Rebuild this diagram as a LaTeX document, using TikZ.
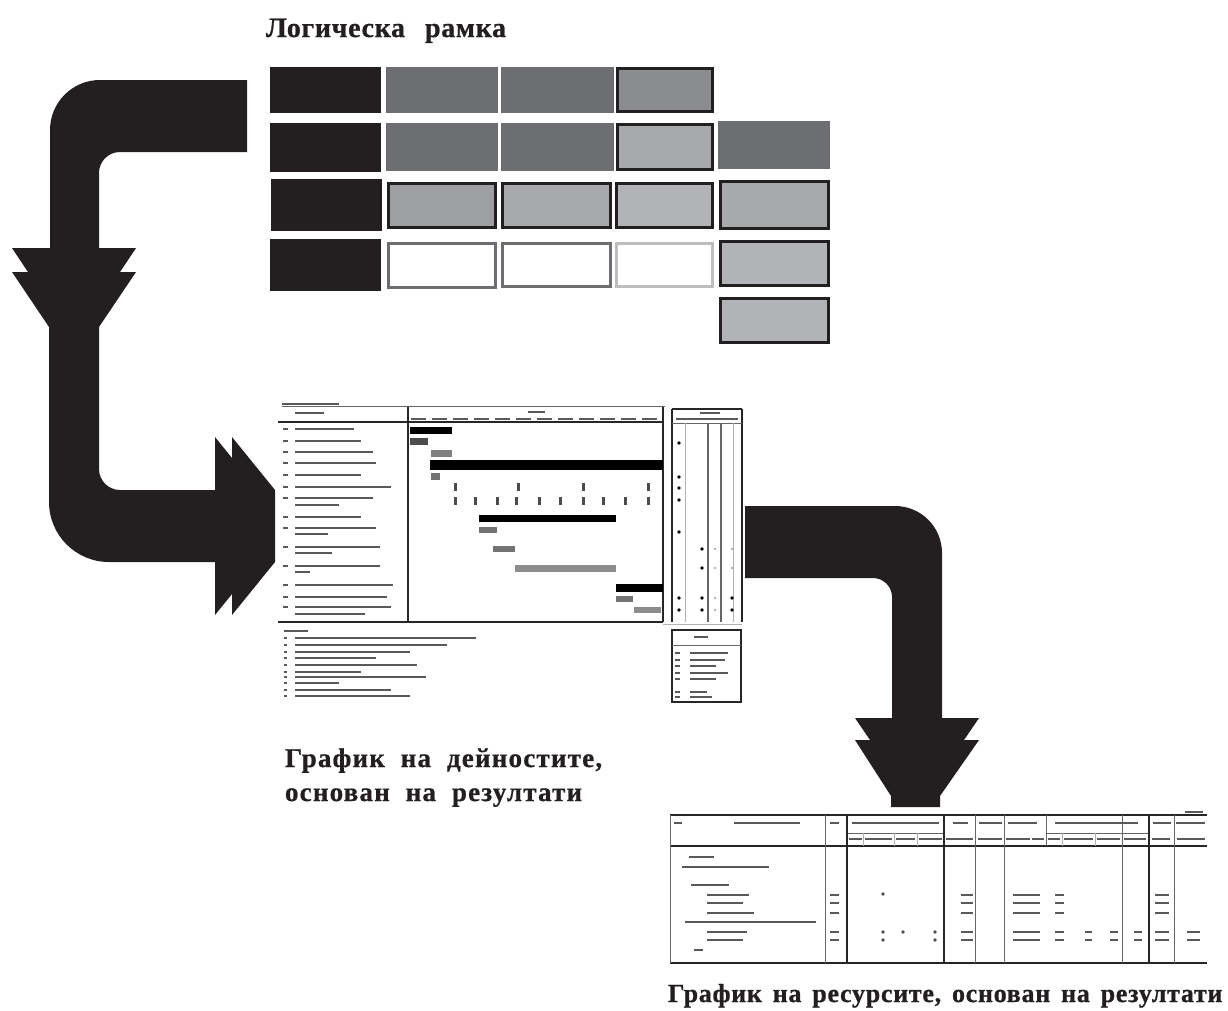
\documentclass[tikz,border=0pt]{standalone}
\usepackage{fontspec}
\setmainfont{Liberation Serif}
\newfontfamily\fonttitle{Liberation Serif}[WordSpace=2.6,LetterSpace=2.4,FakeBold=0.8]
\newfontfamily\fontlabB{Liberation Serif}[WordSpace=2.0,LetterSpace=4.5,FakeBold=0.8]
\newfontfamily\fontlabC{Liberation Serif}[WordSpace=1.5,LetterSpace=2.8,FakeBold=0.8]
\definecolor{inkc}{HTML}{231F20}
\definecolor{gA}{HTML}{6D6E71}
\definecolor{gB}{HTML}{8A8C8F}
\definecolor{gC}{HTML}{A7A9AC}
\definecolor{gD}{HTML}{9D9FA2}
\definecolor{gE}{HTML}{B1B3B6}
\definecolor{gF}{HTML}{BCBEC0}
\begin{document}
\begin{tikzpicture}[x=1pt,y=-1pt,
  cell/.style={rectangle,inner sep=0pt,outer sep=0pt,draw=none},
  bcell/.style={rectangle,inner sep=0pt,outer sep=0pt,line width=3pt},
  arrowshape/.style={fill=inkc,draw=none},
  gk/.style={line width=2.2pt,draw=black!65},
  gv/.style={line width=2pt,draw=black!65},
  gl/.style={line width=0.8pt,draw=black!60},
  gL/.style={line width=1.6pt,draw=black!85},
  gf/.style={line width=0.6pt,draw=black!30},
  lbl/.style={anchor=base west,inner sep=0pt,outer sep=0pt,text=inkc}]
\useasboundingbox (0,0) rectangle (1228,1010);

% ---------- Logical frame ----------
\node[lbl,font=\fonttitle\fontsize{28}{30}\selectfont\bfseries] (title) at (266,37) {Логическа рамка};

\node[cell,fill=inkc,minimum width=111pt,minimum height=46pt] (r1c1) at (325.5,90) {};
\node[cell,fill=gA,minimum width=112pt,minimum height=46pt] (r1c2) at (442,90) {};
\node[cell,fill=gA,minimum width=113pt,minimum height=46pt] (r1c3) at (557.5,90) {};
\node[bcell,draw=inkc,fill=gB,minimum width=95pt,minimum height=43pt] (r1c4) at (665,90) {};

\node[cell,fill=inkc,minimum width=111pt,minimum height=49pt] (r2c1) at (325,147.5) {};
\node[cell,fill=gA,minimum width=112pt,minimum height=48pt] (r2c2) at (442,147) {};
\node[cell,fill=gA,minimum width=113pt,minimum height=48pt] (r2c3) at (557.5,147) {};
\node[bcell,draw=inkc,fill=gC,minimum width=95pt,minimum height=45pt] (r2c4) at (665,147) {};
\node[cell,fill=gA,minimum width=112pt,minimum height=48pt] (r2c5) at (774,145) {};

\node[cell,fill=inkc,minimum width=111pt,minimum height=52pt] (r3c1) at (326.5,205) {};
\node[bcell,draw=inkc,fill=gD,minimum width=107pt,minimum height=44pt] (r3c2) at (442,205.5) {};
\node[bcell,draw=inkc,fill=gC,minimum width=108pt,minimum height=44pt] (r3c3) at (556.5,205.5) {};
\node[bcell,draw=inkc,fill=gE,minimum width=96pt,minimum height=44pt] (r3c4) at (664.5,205.5) {};
\node[bcell,draw=inkc,fill=gC,minimum width=108pt,minimum height=47pt] (r3c5) at (774.5,205) {};

\node[cell,fill=inkc,minimum width=111pt,minimum height=52pt] (r4c1) at (325,265) {};
\node[bcell,draw=gA,fill=white,minimum width=107pt,minimum height=44pt] (r4c2) at (442,265.5) {};
\node[bcell,draw=gA,fill=white,minimum width=108pt,minimum height=43pt] (r4c3) at (556.5,265) {};
\node[bcell,draw=gF,fill=white,minimum width=96pt,minimum height=43pt] (r4c4) at (664.5,265) {};
\node[bcell,draw=inkc,fill=gE,minimum width=108pt,minimum height=44pt] (r4c5) at (774.5,263.5) {};

\node[bcell,draw=inkc,fill=gE,minimum width=108pt,minimum height=44pt] (r5c5) at (774.5,320.5) {};

% ---------- Arrow 1 : frame -> down -> right to the activity schedule ----------
\fill[arrowshape] (247,80) -- (100,80) .. controls (72.4,80) and (50,102.4) .. (50,130)
  -- (50,248) -- (12,248) -- (28,272) -- (12,272) -- (49,327)
  -- (49,502) .. controls (49,535.1) and (75.9,562) .. (109,562)
  -- (215,562) -- (215,615) -- (232,594) -- (232,615) -- (275,562)
  -- (275,490) -- (232,437) -- (232,458) -- (215,437) -- (215,490)
  -- (120,490) .. controls (108.4,490) and (99,480.6) .. (99,469)
  -- (99,327) -- (136,272) -- (120,272) -- (136,248) -- (99,248)
  -- (99,173) .. controls (99,161.4) and (108.4,152) .. (120,152)
  -- (247,152) -- cycle;

% ---------- Arrow 2 : schedule -> resources ----------
\fill[arrowshape] (745,506) -- (895,506) .. controls (921,506) and (942,527) .. (942,553)
  -- (942,718) -- (979,718) -- (964,740) -- (979,740) -- (940,796)
  -- (940,807) -- (891,807) -- (891,796) -- (855,740) -- (870,740) -- (855,718)
  -- (892,718) -- (892,597) .. controls (892,586.5) and (883.5,578) .. (873,578)
  -- (745,578) -- cycle;

% ---------- Activity schedule (miniature) ----------
\draw[gk,line width=1.5pt] (282,404) -- (339,404);
\draw[gl] (282,406) -- (665,406);
\draw[gL] (278,422) -- (663,422);
\draw[gL] (408,407) -- (408,622);
\draw[gL] (663,407) -- (663,622);
\draw[gL] (278,622) -- (663,622);
\draw[gf] (663,624) -- (742,624);
\draw[gk] (295,413) -- (324,413);
\draw[gk] (528,412) -- (545,412);
\foreach \a in {411,432,453,474,495,516,537,558,579,600,621,642}
  \draw[gk,line width=1.4pt] (\a,419) -- ({\a+15},419);
\foreach \y/\b in {429/354,441/361,452/373,463/376,475/361,487/391,498/373,505/339,517/361,528/376,534/328,547/380,553/332,566/380,572/310,585/393,597/387,607/391,614/365}
  \draw[gk] (295,\y) -- (\b,\y);
\foreach \y in {429,441,452,463,475,487,498,517,528,547,566,585,597,607}
  \draw[gk] (283,\y) -- (288,\y);
\fill[black] (410,427) rectangle (452,434);
\fill[black!70] (410,438) rectangle (428,445);
\fill[black!50] (431,450) rectangle (452,457);
\fill[black] (430,460) rectangle (663,470);
\fill[black!55] (431,473) rectangle (440,480);
\fill[black] (479,515) rectangle (616,522);
\fill[black!55] (479,527) rectangle (497,533);
\fill[black!55] (493,546) rectangle (515,552);
\fill[black!45] (515,565) rectangle (616,572);
\fill[black] (616,584) rectangle (663,592);
\fill[black!55] (616,596) rectangle (633,602);
\fill[black!45] (634,607) rectangle (661,613);
\foreach \a in {454,517,582,647} \fill[black!70] (\a,483) rectangle ({\a+3},491);
\foreach \a in {454,474,496,515,538,559,582,602,624,647} \fill[black!70] (\a,497) rectangle ({\a+3},505);
% right table
\draw[gL] (672,409) -- (742,409);
\draw[gL] (672,409) -- (672,622);
\draw[gL] (742,409) -- (742,622);
\draw[gl] (672,423) -- (742,423);
\draw[gf] (685,423) -- (685,622);
\draw[gl,line width=1.2pt] (708,423) -- (708,622);
\draw[gl,line width=1.2pt] (721,423) -- (721,622);
\draw[gf] (733,423) -- (733,622);
\draw[gk,line width=1.4pt] (700,413) -- (720,413);
\draw[gk,line width=1.2pt] (676,419) -- (738,419);
\foreach \p in {(679,443),(679,477),(679,488),(679,500),(679,532),(702,549),(702,568),(679,598),(702,598),(732,598),(679,610),(702,610),(732,610)}
  \fill[black] \p circle (1.8);
\foreach \p in {(715,549),(732,549),(715,568),(732,568),(715,598),(715,610)}
  \fill[black!40] \p circle (1.2);
% notes
\draw[gk,line width=1.6pt] (284,631) -- (308,631);
\foreach \y/\b in {638/476,645/447,652/410,658/376,665/417,672/361,677/426,683/339,690/391,696/410}
  {\draw[gk,line width=1.6pt] (284,\y) -- (287,\y); \draw[gk,line width=1.6pt] (295,\y) -- (\b,\y);}
% legend box
\draw[gL] (672,630) rectangle (741,702);
\draw[gl] (672,645) -- (741,645);
\draw[gk,line width=2.4pt] (694,637) -- (708,637);
\foreach \y/\b in {653/728,660/725,666/716,673/728,679/716,692/707,697/712}
  {\draw[gk,line width=1.5pt] (675,\y) -- (680,\y); \draw[gk,line width=1.5pt] (690,\y) -- (\b,\y);}

\node[lbl,font=\fontlabB\fontsize{27}{29}\selectfont\bfseries] (lab2a) at (285,767) {График на дейностите,};
\node[lbl,font=\fontlabB\fontsize{27}{29}\selectfont\bfseries] (lab2b) at (285,801) {основан на резултати};

% ---------- Resource schedule (miniature) ----------
\draw[gL] (670,815) -- (1207,815);
\draw[gL] (670,846) -- (1207,846);
\draw[gL] (670,963) -- (1207,963);
\draw[gl] (670,815) -- (670,963);
\draw[gl] (847,833) -- (944,833);
\draw[gl] (1046,833) -- (1149,833);
\foreach \a in {825,975,1004,1122,1174} \draw[gl] (\a,815) -- (\a,963);
\foreach \a in {847,944,1149} \draw[gL] (\a,815) -- (\a,963);
\draw[gl] (1046,815) -- (1046,846);
\foreach \a in {863,894,917,1062,1095} \draw[gf] (\a,833) -- (\a,846);
\foreach \a/\b in {674/682,734/800,830/839,852/939,953/968,979/1002,1008/1037,1055/1138,1153/1171,1176/1205}
  \draw[gk,line width=1.5pt] (\a,823) -- (\b,823);
\draw[gk,line width=1.5pt] (1185,812) -- (1203,812);
\foreach \a/\b in {849/862,865/892,896/915,919/942,946/973,978/1002,1006/1030,1032/1044,1048/1060,1064/1093,1097/1120,1124/1146,1152/1170,1177/1205}
  \draw[gk,line width=1.5pt] (\a,839) -- (\b,839);
\foreach \y/\a/\b in {857/689/714,867/682/769,885/691/729,895/707/749,903/707/743,913/707/754,922/685/816,932/707/747,940/707/743,950/694/703}
  \draw[gk,line width=1.6pt] (\a,\y) -- (\b,\y);
\foreach \y in {895,903,913}
  \foreach \a/\b in {830/839,961/973,1013/1040,1055/1064,1155/1169}
    \draw[gv,line width=1.6pt] (\a,\y) -- (\b,\y);
\foreach \y in {932,940}
  \foreach \a/\b in {830/839,961/973,1013/1040,1055/1064,1085/1092,1110/1118,1134/1142,1155/1169,1187/1200}
    \draw[gv,line width=1.6pt] (\a,\y) -- (\b,\y);
\foreach \p in {(883,894),(883,932),(903,932),(935,932),(883,940),(935,940)}
  \fill[black!70] \p circle (1.8);

\node[lbl,font=\fontlabC\fontsize{26}{28}\selectfont\bfseries] (lab3) at (668,1002) {График на ресурсите, основан на резултати};
\end{tikzpicture}
\end{document}
